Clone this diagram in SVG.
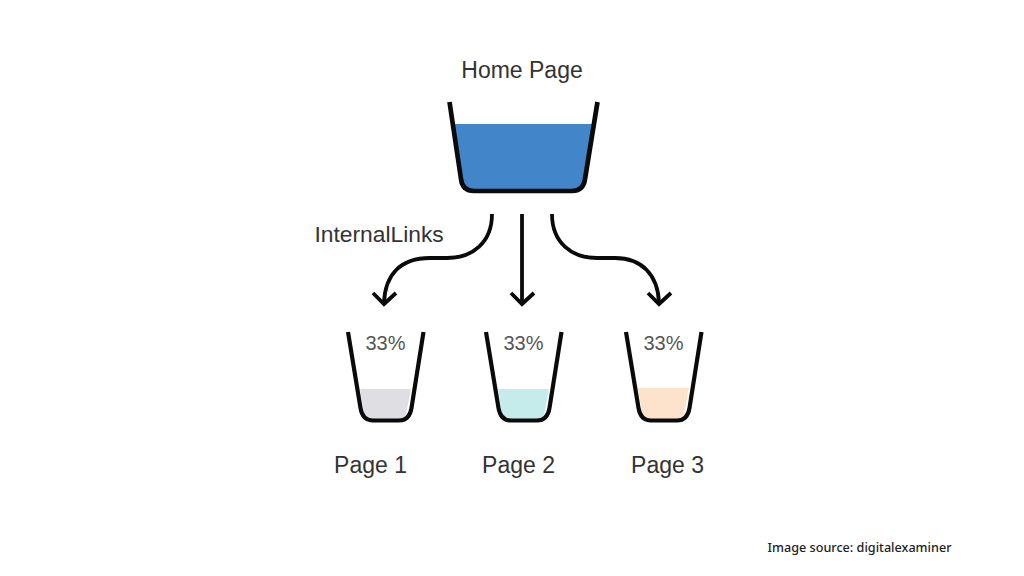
<svg xmlns="http://www.w3.org/2000/svg" width="1024" height="576" viewBox="0 0 1024 576">
<style>
.cup{fill:none;stroke:#0a0a0a;stroke-linecap:butt;stroke-linejoin:round}
.big{stroke-width:4.700}
.small{stroke-width:4.200}
.conn{fill:none;stroke:#0a0a0a;stroke-width:3.800}
.lbl{font-family:"Liberation Sans",Arial,sans-serif;font-size:23px;fill:#333}
.pct{font-family:"Liberation Sans",Arial,sans-serif;font-size:20px;fill:#555}
.src{font-family:"Noto Sans","Open Sans",sans-serif;font-size:12px;font-weight:500;fill:#222}
</style>
<defs>
<path id="smallcup" class="cup small" d="M0 12L12.500 88Q14.500 100.500 25 100.500H51Q61.500 100.500 63.500 88L75.500 12"/>
</defs>
<rect width="1024" height="576" fill="#fff"/>
<g id="home-page">
<text class="lbl" x="522" y="78" text-anchor="middle">Home Page</text>
<path d="M453 124H593L581 190H463Z" fill="#4285c9"/>
<path class="cup big" d="M449.500 102L461 179Q462.500 191 474 191H572Q583.500 191 585 179L597.500 102"/>
</g>
<g id="page-1">
<path d="M360 389H411L405 420H365Z" fill="#dfdfe3"/>
<use href="#smallcup" x="348" y="320"/>
<text class="pct" x="385.500" y="350" text-anchor="middle">33%</text>
<text class="lbl" x="370.500" y="473" text-anchor="middle">Page 1</text>
</g>
<g id="page-2">
<path d="M498 389H549L543 420H503Z" fill="#c5ebea"/>
<use href="#smallcup" x="486" y="320"/>
<text class="pct" x="523.500" y="350" text-anchor="middle">33%</text>
<text class="lbl" x="518.500" y="473" text-anchor="middle">Page 2</text>
</g>
<g id="page-3">
<path d="M638 388H689L683 420H643Z" fill="#fde3cc"/>
<use href="#smallcup" x="626" y="320"/>
<text class="pct" x="663.500" y="350" text-anchor="middle">33%</text>
<text class="lbl" x="667.500" y="473" text-anchor="middle">Page 3</text>
</g>
<g id="connectors">
<path class="conn" d="M492 214C492 243 472 258 447 258H430C400 258 385 275 384 303"/>
<path class="conn" d="M373 293L384 304L396 293"/>
<path class="conn" d="M522 214V304"/>
<path class="conn" d="M511 293L522 304L534 293"/>
<path class="conn" d="M552 214C552 243 572 258 597 258H615C642 258 658 275 659 303"/>
<path class="conn" d="M648 293L659 304L671 293"/>
</g>
<text class="lbl" x="314.500" y="242" style="font-size:22.800px">InternalLinks</text>
<text class="src" x="767.500" y="552" textLength="184" lengthAdjust="spacingAndGlyphs">Image source: digitalexaminer</text>
</svg>
